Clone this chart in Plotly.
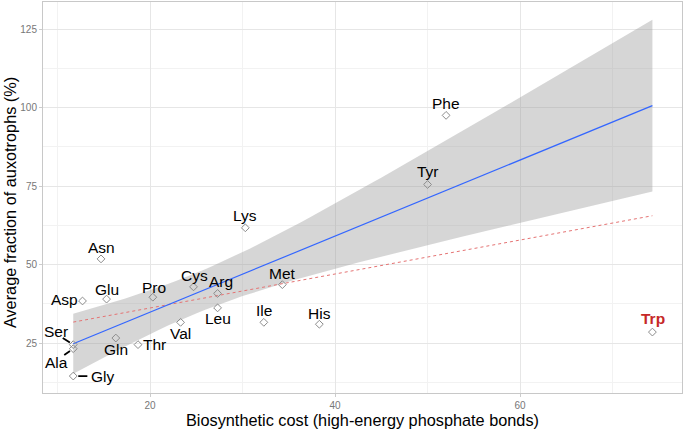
import numpy as np
import plotly.graph_objects as go

# ---- data ----
amino_acids = ["Gly", "Ala", "Ser", "Asp", "Asn", "Glu", "Gln", "Thr", "Pro", "Val",
               "Cys", "Leu", "Arg", "Lys", "Ile", "Met", "His", "Tyr", "Phe", "Trp"]
biosynthetic_cost = [11.7, 11.7, 11.7, 12.7, 14.7, 15.3, 16.3, 18.7, 20.3, 23.3,
                     24.7, 27.3, 27.3, 30.3, 32.3, 34.3, 38.3, 50.0, 52.0, 74.3]
auxotroph_fraction = [14.5, 23.2, 24.5, 38.4, 51.8, 39.0, 26.6, 24.5, 39.6, 31.6,
                      42.9, 36.2, 40.8, 61.7, 31.6, 43.6, 31.0, 75.5, 97.5, 28.5]
outlier = "Trp"
x_ticks = [20, 40, 60]
y_ticks = [25, 50, 75, 100, 125]

x = np.array(biosynthetic_cost)
y = np.array(auxotroph_fraction)
mask = np.array([a != outlier for a in amino_acids])

# fit without outlier (with 95% CI), fit with all points
xs, ys = x[mask], y[mask]
n = len(xs)
b1, b0 = np.polyfit(xs, ys, 1)
resid = ys - (b0 + b1 * xs)
s = np.sqrt(np.sum(resid ** 2) / (n - 2))
sxx = np.sum((xs - xs.mean()) ** 2)
t_crit = 2.1098  # t(0.975, df=17)
xg = np.linspace(x.min(), x.max(), 80)
yg = b0 + b1 * xg
se = s * np.sqrt(1.0 / n + (xg - xs.mean()) ** 2 / sxx)
upper, lower = yg + t_crit * se, yg - t_crit * se
a1, a0 = np.polyfit(x, y, 1)
yall = a0 + a1 * xg

FONT = "Liberation Sans, Arial, sans-serif"

fig = go.Figure()
fig.add_trace(go.Scatter(x=np.concatenate([xg, xg[::-1]]), y=np.concatenate([upper, lower[::-1]]),
                         fill="toself", fillcolor="rgba(153,153,153,0.4)", line=dict(width=0),
                         hoverinfo="skip", showlegend=False))
fig.add_trace(go.Scatter(x=xg, y=yall, mode="lines", line=dict(color="#E57373", width=1, dash="3px,3px"),
                         showlegend=False))
fig.add_trace(go.Scatter(x=xg, y=yg, mode="lines", line=dict(color="#3366FF", width=1.2),
                         showlegend=False))
fig.add_trace(go.Scatter(x=x, y=y, mode="markers",
                         marker=dict(symbol="diamond-open", size=6, color="#8C8C8C", line=dict(width=1)),
                         showlegend=False))

# label offsets in pixels (dx right, dy up)
label_layout = {
    "Phe": (0, 12), "Tyr": (0, 13), "Lys": (0, 12.5), "Met": (0, 11.5),
    "Arg": (3, 11.5), "Leu": (0, -10.5), "Ile": (0, 11.5), "His": (0, 10.5),
    "Trp": (1, 14), "Asn": (0, 11), "Asp": (-18.5, 1), "Glu": (0, 10),
    "Pro": (1, 9.5), "Cys": (1, 11.5), "Val": (0, -11), "Gln": (0, -11.5),
    "Thr": (16, 0), "Ser": (-17.5, 13.6), "Ala": (-16.5, -13.4), "Gly": (29.3, -0.7),
}
# repel-style leader segments: start offset in pixels (dx right, dy down), standoff at point
segment_layout = {"Ser": (-11, -7, 4), "Ala": (-9.5, 6.7, 4), "Gly": (14.6, 0, 5)}

for aa, xv, yv in zip(amino_acids, biosynthetic_cost, auxotroph_fraction):
    dx, dy = label_layout[aa]
    is_out = aa == outlier
    font = dict(family=FONT, size=15.5, color="#C62828" if is_out else "black")
    txt = "<b>%s</b>" % aa if is_out else aa
    fig.add_annotation(x=xv, y=yv, text=txt, showarrow=False, xshift=dx, yshift=dy, font=font)
    if aa in segment_layout:
        sx, sy, so = segment_layout[aa]
        fig.add_annotation(x=xv, y=yv, text=" ", font=dict(size=1), showarrow=True, ax=sx, ay=sy,
                           arrowhead=0, arrowwidth=1.8, arrowcolor="black", standoff=so, borderpad=0)

# axis titles
fig.add_annotation(xref="paper", yref="paper", x=0.5, y=-0.069, yanchor="middle",
                   text="Biosynthetic cost (high-energy phosphate bonds)", showarrow=False,
                   font=dict(family=FONT, size=16.3, color="black"))
fig.add_annotation(xref="paper", yref="paper", x=-0.0524, y=0.487, xanchor="center", yanchor="middle",
                   textangle=-90, text="Average fraction of auxotrophs (%)", showarrow=False,
                   font=dict(family=FONT, size=16.3, color="black"))

axis_common = dict(showline=True, mirror=True, linecolor="#C8C8C8", linewidth=1,
                   gridcolor="#E6E6E6", gridwidth=0.8, zeroline=False, automargin=False,
                   ticks="outside", ticklen=3, tickcolor="#CCCCCC",
                   tickfont=dict(family=FONT, size=10, color="#777777"),
                   minor=dict(showgrid=True, gridcolor="#F2F2F2", gridwidth=0.6))
fig.update_xaxes(range=[8.43, 77.5], tickvals=x_ticks, minor_tickvals=[10, 30, 50, 70], **axis_common)
fig.update_yaxes(range=[9.1, 133.6], tickvals=y_ticks, minor_tickvals=[12.5, 37.5, 62.5, 87.5, 112.5],
                 **axis_common)
fig.update_layout(width=685, height=430, margin=dict(l=43, r=3, t=2, b=37),
                  plot_bgcolor="white", paper_bgcolor="white", showlegend=False)
fig.write_html("out.html", config={"displayModeBar": False},
               post_script="document.body.style.margin='0';document.body.style.overflow='hidden';")
